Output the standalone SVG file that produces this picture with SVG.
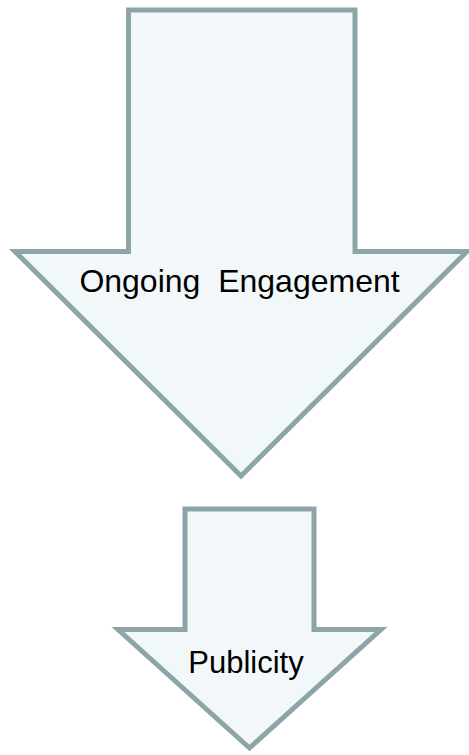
<svg xmlns="http://www.w3.org/2000/svg" width="469" height="755" viewBox="0 0 469 755">
  <style>
    .arrow { fill: #F2F7FA; stroke: #8DA5A8; stroke-width: 5; stroke-linejoin: miter; }
    .label { font-family: "Liberation Sans", Arial, sans-serif; font-size: 31px; fill: #000; text-anchor: middle; }
  </style>
  <rect width="469" height="755" fill="#FFFFFF"/>
  <g id="connectors"></g>
  <g id="node-ongoing-engagement">
    <polygon class="arrow" points="128.5,10 355,10 355,251.5 467,251.5 241,476 15,251.5 128.5,251.5"/>
    <text class="label" x="239.5" y="292" style="font-size:32px" xml:space="preserve">Ongoing  Engagement</text>
  </g>
  <g id="node-publicity">
    <polygon class="arrow" points="185,509 314,509 314,629.5 381,629.5 249.5,748 118,629.5 185,629.5"/>
    <text class="label" x="246" y="673">Publicity</text>
  </g>
</svg>
